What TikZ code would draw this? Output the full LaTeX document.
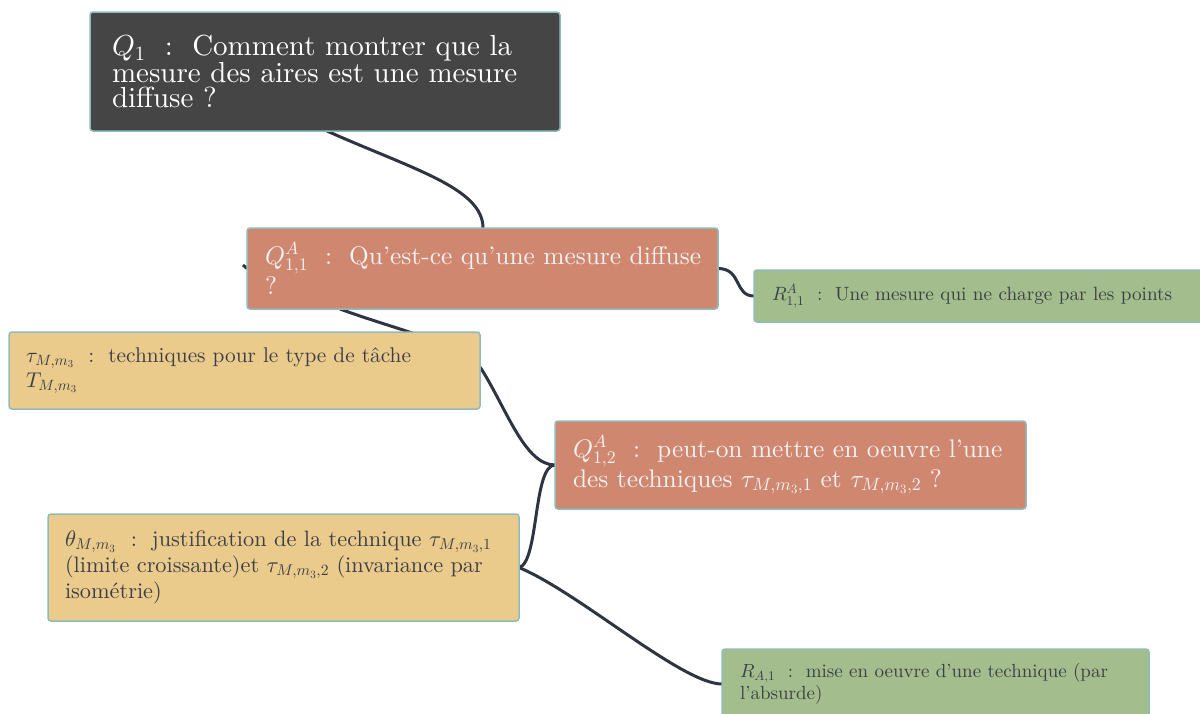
\documentclass[tikz,border=0pt]{standalone}
\usepackage{amsmath}
\DeclareFontShape{OML}{cmm}{m}{it}{<-> cmmi10}{\skewchar\font=127 }
\DeclareFontShape{OMS}{cmsy}{m}{n}{<-> cmsy10}{\skewchar\font=48 }
\DeclareFontShape{OT1}{cmr}{m}{n}{<-> cmr10}{}
\DeclareFontShape{OMX}{cmex}{m}{n}{<-> cmex10}{}
\DeclareFontFamily{TU}{lmten}{}
\DeclareFontShape{TU}{lmten}{m}{n}{<-> "[lmroman10-regular.otf]:mapping=tex-text"}{}
\DeclareFontShape{TU}{lmten}{m}{it}{<-> "[lmroman10-italic.otf]:mapping=tex-text"}{}
\renewcommand{\rmdefault}{lmten}
\definecolor{darkbox}{HTML}{454545}
\definecolor{salmon}{HTML}{D08770}
\definecolor{sage}{HTML}{A3BE8C}
\definecolor{sand}{HTML}{EBCB8B}
\definecolor{rim}{HTML}{8FBCBB}
\definecolor{wire}{HTML}{2E3440}
\definecolor{lighttxt}{HTML}{F2F2F2}
\definecolor{darktxt}{HTML}{3B3F48}
\newcommand{\sep}{~~:~~}
\pgfdeclarelayer{bg}
\pgfsetlayers{bg,main}
\tikzset{
  box/.style={draw=rim, line width=1.5pt, rounded corners=3pt, anchor=north west,
    align=left, inner ysep=0pt, outer sep=0pt},
  qdark/.style={box, fill=darkbox, text=white},
  qsal/.style={box, fill=salmon, text=lighttxt},
  rgreen/.style={box, fill=sage, text=darktxt},
  tsand/.style={box, fill=sand, text=darktxt},
  wirestyle/.style={draw=wire, line width=3pt},
}
\begin{document}
\begin{tikzpicture}[x=1pt,y=-1pt]
\useasboundingbox (0,0) rectangle (1200,713);
% nodes
\node[qdark, font=\fontsize{29}{25}\selectfont, minimum width=470, minimum height=119, text width=426, inner xsep=22] (q1) at (90,12)
  {\mbox{$Q_1$\sep Comment montrer que la}\\\mbox{mesure des aires est une mesure}\\\mbox{diffuse ?}};
\node[qsal, font=\fontsize{25.4}{30}\selectfont, minimum width=471, minimum height=81, text width=435, inner xsep=18] (q11) at (247,228)
  {\mbox{$Q^A_{1,1}$\sep Qu'est-ce qu'une mesure diffuse}\\\mbox{?}};
\node[rgreen, font=\fontsize{19.2}{22}\selectfont, minimum width=460, minimum height=52, text width=424, inner xsep=18] (r11) at (754,270)
  {\mbox{$R^A_{1,1}$\sep Une mesure qui ne charge par les points}};
\node[tsand, font=\fontsize{21.3}{25}\selectfont, minimum width=471, minimum height=77, text width=437, inner xsep=17] (tau) at (9,332)
  {\mbox{$\tau_{M,m_3}$\sep techniques pour le type de t\^ache}\\\mbox{$T_{M,m_3}$}};
\node[qsal, font=\fontsize{25.4}{30}\selectfont, minimum width=471, minimum height=88, text width=435, inner xsep=18] (q12) at (555,421)
  {\mbox{$Q^A_{1,2}$\sep peut-on mettre en oeuvre l'une}\\\mbox{des techniques $\tau_{M,m_3,1}$ et $\tau_{M,m_3,2}$ ?}};
\node[tsand, font=\fontsize{22.3}{26}\selectfont, minimum width=471, minimum height=107, text width=437, inner xsep=17] (theta) at (48,514)
  {\mbox{$\theta_{M,m_3}$\sep justification de la technique $\tau_{M,m_3,1}$}\\\mbox{(limite croissante)et $\tau_{M,m_3,2}$ (invariance par}\\\mbox{isom\'etrie)}};
\node[rgreen, font=\fontsize{19}{22}\selectfont, minimum width=427, minimum height=70, text width=391, inner xsep=18] (ra1) at (722,649)
  {\mbox{$R_{A,1}$\sep mise en oeuvre d'une technique (par}\\\mbox{l'absurde)}};
% connectors
\coordinate (stubA) at (243,265);
\coordinate (bend) at (482,370);
\begin{pgfonlayer}{bg}
\draw[wirestyle] ([xshift=237pt]q1.south west) .. controls +(85,38) and +(0,-40) .. ([xshift=236pt]q11.north west);
\draw[wirestyle] (q11.east) .. controls +(24,0) and +(-20,0) .. (r11.west);
\draw[wirestyle] ([xshift=93pt]q11.south west) .. controls +(60,22) and +(-15,-25) .. (bend)
  .. controls +(25,40) and +(-30,0) .. (q12.west);
\draw[wirestyle] (q12.west) .. controls +(-22,0) and +(20,-5) .. (theta.east);
\draw[wirestyle] (theta.east) .. controls +(60,25) and +(-40,0) .. (ra1.west);
\draw[wirestyle] (stubA) -- (q11.west);
\end{pgfonlayer}
\end{tikzpicture}
\end{document}
